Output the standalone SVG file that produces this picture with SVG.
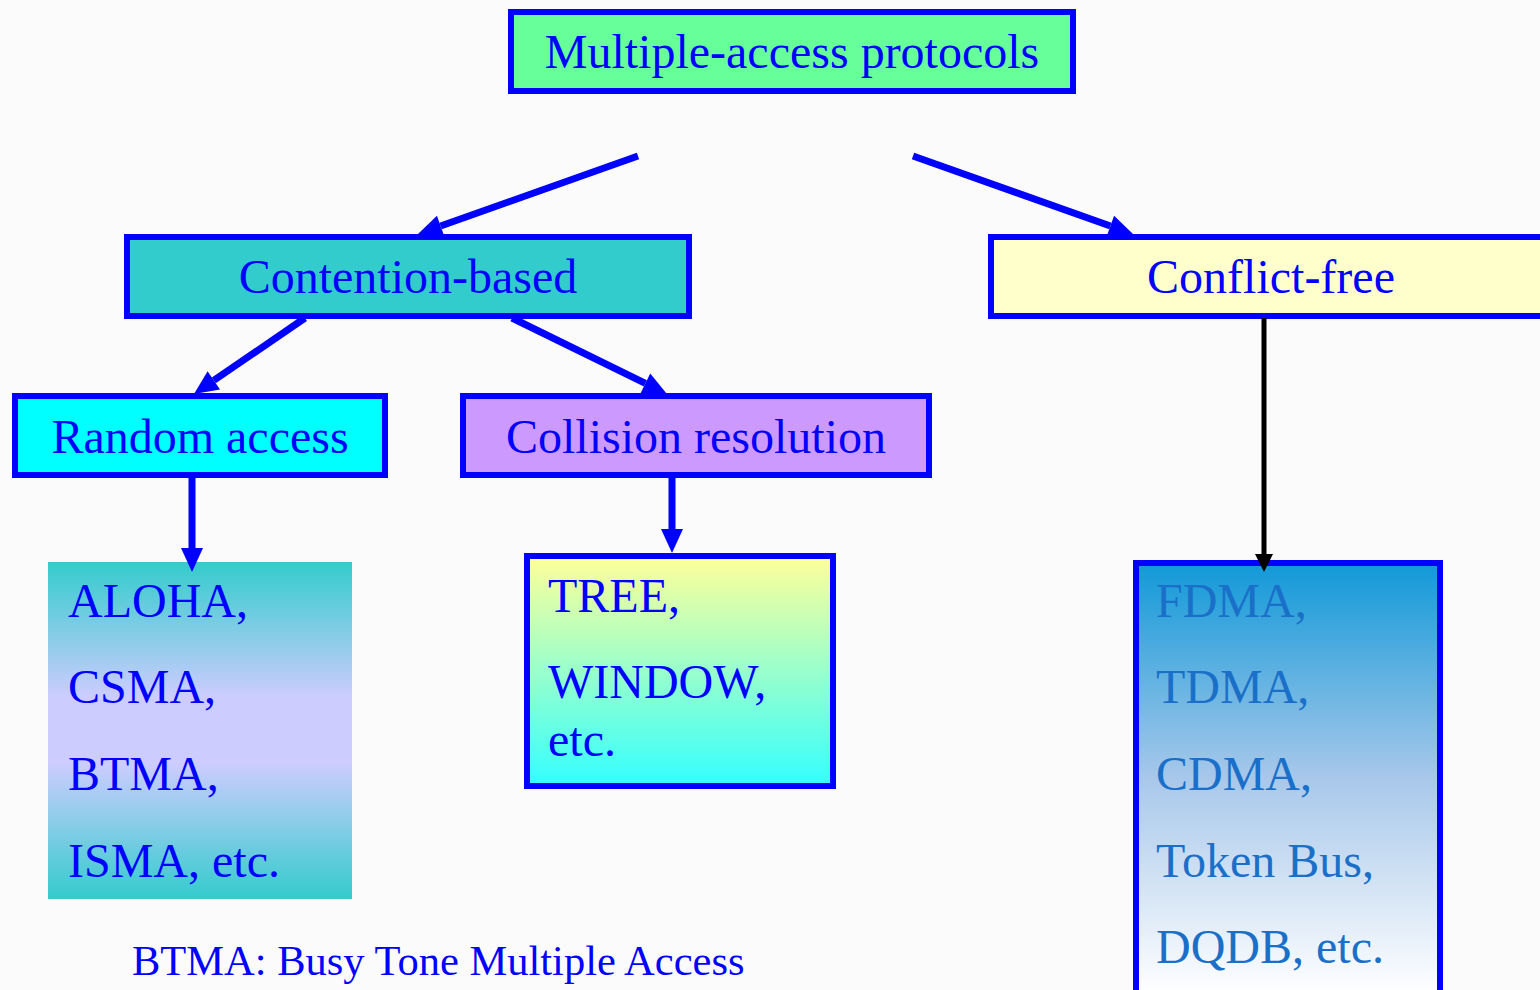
<svg xmlns="http://www.w3.org/2000/svg" width="1540" height="990" viewBox="0 0 1540 990">
  <style>
    .box { stroke: #0000ff; stroke-width: 6; }
    .t { font-family: "Liberation Serif", "Times New Roman", serif; font-size: 48px; fill: #0000ff; }
    .mid { text-anchor: middle; }
    .soft { fill: #1a70c8; }
    .link { stroke: #0000ff; stroke-width: 7; fill: none; marker-end: url(#headBlue); }
    .linkDark { stroke: #000000; stroke-width: 5; fill: none; marker-end: url(#headBlack); }
  </style>
  <defs>
    <!-- heads start where the shaft stops, so the tip stays sharp -->
    <marker id="headBlue" viewBox="0 0 24 22" refX="0" refY="11" markerUnits="userSpaceOnUse" markerWidth="24" markerHeight="22" orient="auto" overflow="visible">
      <path d="M0,0 L24,11 L0,22 Z" fill="#0000ff"/>
    </marker>
    <marker id="headBlack" viewBox="0 0 18 18" refX="0" refY="9" markerUnits="userSpaceOnUse" markerWidth="18" markerHeight="18" orient="auto" overflow="visible">
      <path d="M0,0 L18,9 L0,18 Z" fill="#000000"/>
    </marker>
    <linearGradient id="gradRandom" x1="0" y1="0" x2="0" y2="1">
      <stop offset="0" stop-color="#33cccc"/>
      <stop offset="0.4" stop-color="#ccccff"/>
      <stop offset="0.6" stop-color="#ccccff"/>
      <stop offset="1" stop-color="#33cccc"/>
    </linearGradient>
    <linearGradient id="gradCollision" x1="0" y1="0" x2="0" y2="1">
      <stop offset="0" stop-color="#ffff99"/>
      <stop offset="1" stop-color="#33ffff"/>
    </linearGradient>
    <linearGradient id="gradFree" x1="0" y1="0" x2="0" y2="1">
      <stop offset="0" stop-color="#1199d8"/>
      <stop offset="0.5" stop-color="#a8c8ea"/>
      <stop offset="1" stop-color="#ffffff"/>
    </linearGradient>
  </defs>

  <rect width="1540" height="990" fill="#fbfbfb"/>

  <g id="root">
    <rect class="box" x="511" y="12" width="562" height="79" fill="#66ff99"/>
    <text class="t mid" x="792" y="68">Multiple-access protocols</text>
  </g>

  <g id="contention">
    <rect class="box" x="127" y="237" width="562" height="79" fill="#33cccc"/>
    <text class="t mid" x="408" y="293">Contention-based</text>
  </g>

  <g id="conflictfree">
    <rect class="box" x="991" y="237" width="560" height="79" fill="#ffffcc"/>
    <text class="t mid" x="1271" y="293">Conflict-free</text>
  </g>

  <g id="random">
    <rect class="box" x="15" y="396" width="370" height="79" fill="#00ffff"/>
    <text class="t mid" x="200" y="453">Random access</text>
  </g>

  <g id="collision">
    <rect class="box" x="463" y="396" width="466" height="79" fill="#cc99ff"/>
    <text class="t mid" x="696" y="453">Collision resolution</text>
  </g>

  <g id="randomList">
    <rect x="48" y="562" width="304" height="337" fill="url(#gradRandom)"/>
    <text class="t" x="68" y="617">ALOHA,</text>
    <text class="t" x="68" y="703">CSMA,</text>
    <text class="t" x="68" y="790">BTMA,</text>
    <text class="t" x="68" y="877">ISMA, etc.</text>
  </g>

  <g id="collisionList">
    <rect class="box" x="527" y="556" width="306" height="230" fill="url(#gradCollision)"/>
    <text class="t" x="548" y="612">TREE,</text>
    <text class="t" x="548" y="698">WINDOW,</text>
    <text class="t" x="548" y="756">etc.</text>
  </g>

  <g id="freeList">
    <rect class="box" x="1136" y="563" width="304" height="432" fill="url(#gradFree)"/>
    <text class="t soft" x="1156" y="617">FDMA,</text>
    <text class="t soft" x="1156" y="703">TDMA,</text>
    <text class="t soft" x="1156" y="790">CDMA,</text>
    <text class="t soft" x="1156" y="877">Token Bus,</text>
    <text class="t soft" x="1156" y="963">DQDB, etc.</text>
  </g>

  <g id="connectors">
    <line class="link" x1="638" y1="156" x2="440.6" y2="226"/>
    <line class="link" x1="913" y1="156" x2="1110.4" y2="226"/>
    <line class="link" x1="305" y1="318" x2="213.8" y2="380.4"/>
    <line class="link" x1="512" y1="318" x2="645.4" y2="383.4"/>
    <line class="link" x1="192" y1="477" x2="192" y2="548"/>
    <line class="link" x1="672" y1="477" x2="672" y2="529"/>
    <line class="linkDark" x1="1264" y1="318" x2="1264" y2="554"/>
  </g>

  <g id="footnote">
    <text class="t" x="132" y="975" style="font-size:42.5px">BTMA: Busy Tone Multiple Access</text>
  </g>
</svg>
